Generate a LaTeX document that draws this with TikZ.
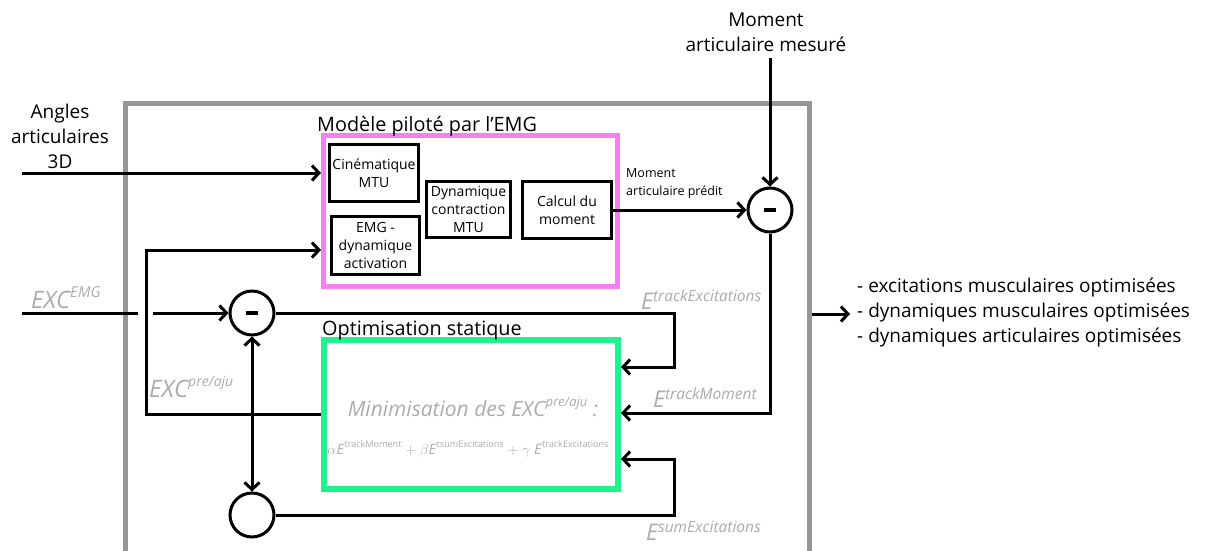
\documentclass[tikz,border=0pt]{standalone}
\usepackage{fontspec}
\setmainfont{Open Sans}
\usetikzlibrary{arrows.meta}
\definecolor{pinkc}{RGB}{245,128,240}
\definecolor{greenc}{RGB}{28,245,140}
\definecolor{grayb}{RGB}{150,150,150}
\definecolor{grayt}{RGB}{172,172,172}
\begin{document}
\begin{tikzpicture}[x=1pt,y=-1pt,
  conn/.style={line width=3pt,black},
  arr/.style={conn,-{Straight Barb[length=7pt,width=15pt,line width=3pt]}},
  darr/.style={conn,{Straight Barb[length=7pt,width=15pt,line width=3pt]}-{Straight Barb[length=7pt,width=15pt,line width=3pt]}},
  bigtxt/.style={font=\fontsize{19}{25}\selectfont,align=center,inner sep=0pt},
  headtxt/.style={font=\fontsize{19.8}{25}\selectfont,inner sep=0pt,anchor=base west},
  boxtxt/.style={font=\fontsize{14}{18}\selectfont,align=center,inner sep=0pt},
  smalltxt/.style={font=\fontsize{12.5}{18}\selectfont,align=left,inner sep=0pt},
  mbox/.style={draw,line width=3pt,inner sep=0pt,boxtxt},
  sumc/.style={circle,draw,line width=3pt,minimum size=44pt,inner sep=0pt},
  grylbl/.style={text=grayt,inner sep=0pt,anchor=west}]
\useasboundingbox (0,0) rectangle (1210,551);
\clip (0,0) rectangle (1210,551);
\fill[white] (0,0) rectangle (1210,551);

% outer frame
\node[draw=grayb,line width=5pt,minimum width=684pt,minimum height=460pt,inner sep=0pt] (frame) at (467.5,333.5) {};

% EMG-driven model
\node[draw=pinkc,line width=5pt,minimum width=294pt,minimum height=151pt,inner sep=0pt] (pink) at (470.5,211) {};
\node[headtxt] (pinklbl) at (317,131) {Modèle piloté par l’EMG};
\node[mbox,minimum width=89pt,minimum height=57pt] (cine) at (374,173) {Cinématique\\MTU};
\node[mbox,minimum width=88pt,minimum height=58pt] (emgd) at (375.5,245.5) {EMG -\\dynamique\\activation};
\node[mbox,minimum width=84pt,minimum height=56pt] (dyn) at (468.5,209.5) {Dynamique\\contraction\\MTU};
\node[mbox,minimum width=89pt,minimum height=57pt] (calc) at (567,210) {Calcul du\\moment};

% static optimisation
\node[draw=greenc,line width=6pt,minimum width=294pt,minimum height=149pt,inner sep=0pt] (green) at (471,414.5) {};
\node[headtxt] (greenlbl) at (322,335) {Optimisation statique};
\node[text=grayt,inner sep=0pt,font=\fontsize{21}{21}\selectfont\itshape] (mini) at (473,407)
  {Minimisation des EXC\raisebox{0.5em}{\fontsize{13}{13}\selectfont pre/aju} :};
\node[text=grayt,inner sep=0pt,font=\fontsize{14.4}{14.4}\selectfont] (formula) at (468,449)
  {$\alpha$\textit{E}\raisebox{0.45em}{\fontsize{9.1}{9.1}\selectfont trackMoment} $+$ $\beta$\textit{E}\raisebox{0.45em}{\fontsize{9.1}{9.1}\selectfont tsumExcitations} $+$ $\gamma$ \textit{E}\raisebox{0.45em}{\fontsize{9.1}{9.1}\selectfont trackExcitations}};

% summing circles
\node[sumc] (c1) at (252,313) {\rule[0.5pt]{12pt}{3.5pt}};
\node[sumc] (c2) at (770,210) {\rule[0.5pt]{12pt}{3.5pt}};
\node[sumc] (c3) at (252,515) {};

% inputs text
\node[bigtxt] (angles) at (60,136) {Angles\\articulaires\\3D};
\node[bigtxt] (mesure) at (766,32) {Moment\\articulaire mesuré};
\node[smalltxt,anchor=west] (predit) at (626,184) {Moment\\articulaire prédit};
\node[bigtxt,align=left,anchor=west] (out) at (857,313) {- excitations musculaires optimisées\\- dynamiques musculaires optimisées\\- dynamiques articulaires optimisées};

% grey labels
\node[grylbl,font=\fontsize{24}{24}\selectfont\itshape] (lexc) at (31,298) {EXC\raisebox{0.45em}{\fontsize{15}{15}\selectfont EMG}};
\node[grylbl,font=\fontsize{24}{24}\selectfont\itshape] (lpre) at (149,387) {EXC\raisebox{0.45em}{\fontsize{14}{14}\selectfont pre/aju}};
\node[grylbl,font=\fontsize{23}{23}\selectfont\itshape] (ltrex) at (641,300) {E\raisebox{0.35em}{\fontsize{15.5}{15.5}\selectfont trackExcitations}};
\node[grylbl,font=\fontsize{23}{23}\selectfont\itshape] (ltrmo) at (653,398) {E\raisebox{0.35em}{\fontsize{15.5}{15.5}\selectfont trackMoment}};
\node[grylbl,font=\fontsize{23}{23}\selectfont\itshape] (lsum) at (646,531) {E\raisebox{0.35em}{\fontsize{15.5}{15.5}\selectfont sumExcitations}};

% coordinates
\coordinate (angS) at (22,173);
\coordinate (j1) at (146,414.5);
\coordinate (j2) at (146,250);
\coordinate (e0) at (22,313);
\coordinate (e1) at (138,313);
\coordinate (e2) at (153,313);
\coordinate (k1) at (674,313);
\coordinate (k2) at (674,367);
\coordinate (m0) at (770,58);
\coordinate (t1) at (770,413);
\coordinate (s1) at (674,515);
\coordinate (s2) at (674,459);
\coordinate (o1) at (850,314);

% connectors
\draw[arr] (angS) -- (angS -| pink.west);
\draw[arr] (green.west) -- (j1) -- (j2) -- (j2 -| pink.west);
\draw[conn] (e0) -- (e1);
\draw[arr] (e2) -- (c1.west);
\draw[arr] (c1.east) -- (k1) -- (k2) -- (k2 -| green.east);
\draw[arr] (m0) -- (c2.north);
\draw[arr] (calc.east) -- (c2.west);
\draw[arr] (c2.south) -- (t1) -- (t1 -| green.east);
\draw[darr] (c1.south) -- (c3.north);
\draw[arr] (c3.east) -- (s1) -- (s2) -- (s2 -| green.east);
\draw[arr] (frame.east |- o1) -- (o1);
\end{tikzpicture}
\end{document}
